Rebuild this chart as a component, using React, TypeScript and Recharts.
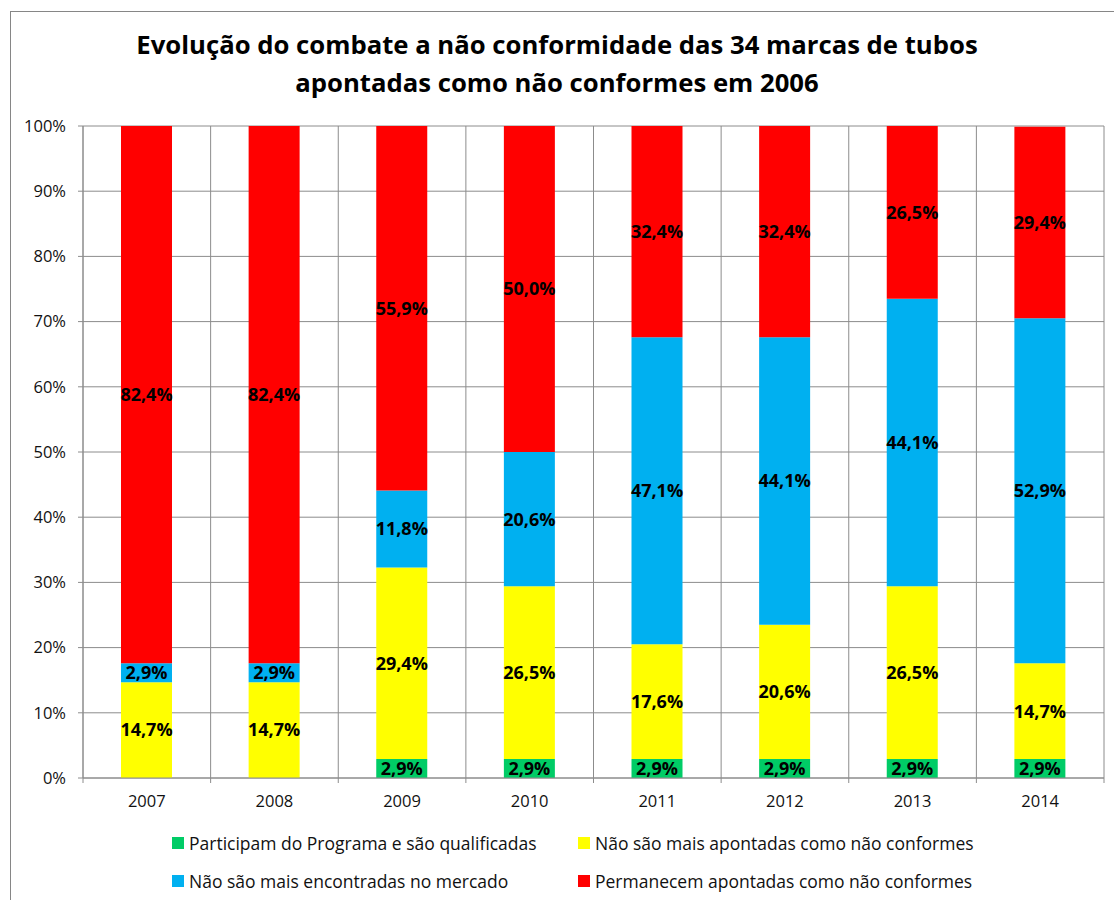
import { BarChart, Bar, XAxis, YAxis, CartesianGrid, LabelList } from 'recharts'

const years = ['2007', '2008', '2009', '2010', '2011', '2012', '2013', '2014']
const qualificadas = [0, 0, 2.9, 2.9, 2.9, 2.9, 2.9, 2.9]
const naoApontadas = [14.7, 14.7, 29.4, 26.5, 17.6, 20.6, 26.5, 14.7]
const naoEncontradas = [2.9, 2.9, 11.8, 20.6, 47.1, 44.1, 44.1, 52.9]
const permanecem = [82.4, 82.4, 55.9, 50.0, 32.4, 32.4, 26.5, 29.4]
const yTicks = [0, 10, 20, 30, 40, 50, 60, 70, 80, 90, 100]

const series = [
  { key: 'q', name: 'Participam do Programa e são qualificadas', color: '#00CC66', values: qualificadas },
  { key: 'a', name: 'Não são mais apontadas como não conformes', color: '#FFFF00', values: naoApontadas },
  { key: 'e', name: 'Não são mais encontradas no mercado', color: '#00B0F0', values: naoEncontradas },
  { key: 'p', name: 'Permanecem apontadas como não conformes', color: '#FF0000', values: permanecem },
]

const data = years.map((year, i) => {
  const row: Record<string, string | number> = { year }
  series.forEach((s) => { row[s.key] = s.values[i] })
  return row
})

const FONT = '"Open Sans", Lato, sans-serif'
const GRID = '#8c8c8c'
const W = 1114
const H = 900
const M = { top: 126, right: 10, left: 23, bottom: 92 }
const Y_W = 60
const PLOT_W = W - M.left - Y_W - M.right

const fmt = (v: unknown) => {
  const n = Number(v)
  if (!n) return ''
  return n.toFixed(1).replace('.', ',') + '%'
}

const XTick = (props: any) => {
  const { x, y, payload, index } = props
  const step = PLOT_W / years.length
  return (
    <g>
      <line x1={x - step / 2} x2={x - step / 2} y1={y} y2={y + 5} stroke={GRID} />
      {index === years.length - 1 && (
        <line x1={x + step / 2} x2={x + step / 2} y1={y} y2={y + 5} stroke={GRID} />
      )}
      <text x={x} y={y + 29} textAnchor="middle" fontSize={16.5} fontFamily={FONT} fill="#111">
        {payload.value}
      </text>
    </g>
  )
}

export default function App() {
  return (
    <div style={{ position: 'absolute', left: 0, top: 0, width: W, height: H, background: '#fff', overflow: 'hidden' }}>
      <div style={{ position: 'absolute', left: 10, top: 11, width: 1120, height: 900, border: '1px solid #868686' }} />
      <div
        style={{
          position: 'absolute', left: 0, top: 26, width: W, textAlign: 'center',
          fontFamily: FONT, fontWeight: 700, fontSize: 25.7, lineHeight: '38px', color: '#000',
        }}
      >
        Evolução do combate a não conformidade das 34 marcas de tubos
        <br />
        apontadas como não conformes em 2006
      </div>
      <div style={{ position: 'absolute', left: 0, top: 0 }}>
        <BarChart width={W} height={H} data={data} margin={M} barSize={51}>
          <CartesianGrid
            stroke={GRID}
            verticalCoordinatesGenerator={({ offset }: any) =>
              years.concat('').map((_, i) => offset.left + (i * offset.width) / years.length)
            }
          />
          <XAxis
            dataKey="year"
            axisLine={{ stroke: GRID }}
            tickLine={false}
            tickSize={0}
            tickMargin={0}
            tick={<XTick />}
            interval={0}
          />
          <YAxis
            width={Y_W}
            domain={[0, 100]}
            ticks={yTicks}
            tickFormatter={(v) => `${v}%`}
            axisLine={{ stroke: GRID }}
            tickLine={{ stroke: GRID }}
            tickSize={5}
            tickMargin={12}
            tick={{ fontSize: 16.5, fontFamily: FONT, fill: '#111' }}
            interval={0}
          />
          {series.map((s) => (
            <Bar key={s.key} dataKey={s.key} name={s.name} stackId="s" fill={s.color} isAnimationActive={false}>
              <LabelList
                dataKey={s.key}
                position="center"
                formatter={fmt}
                style={{ fontSize: 18, fontWeight: 700, fontFamily: FONT, fill: '#000' }}
              />
            </Bar>
          ))}
        </BarChart>
      </div>
      <div
        style={{
          position: 'absolute', left: 172, top: 832, width: 940,
          display: 'grid', gridTemplateColumns: '406px 520px', rowGap: 16,
          fontFamily: FONT, fontSize: 17.5, color: '#111',
        }}
      >
        {series.map((s) => (
          <div key={s.key} style={{ display: 'flex', alignItems: 'center', height: 22, whiteSpace: 'nowrap' }}>
            <span style={{ width: 12, height: 12, background: s.color, marginRight: 5, display: 'inline-block', flex: 'none' }} />
            {s.name}
          </div>
        ))}
      </div>
    </div>
  )
}
